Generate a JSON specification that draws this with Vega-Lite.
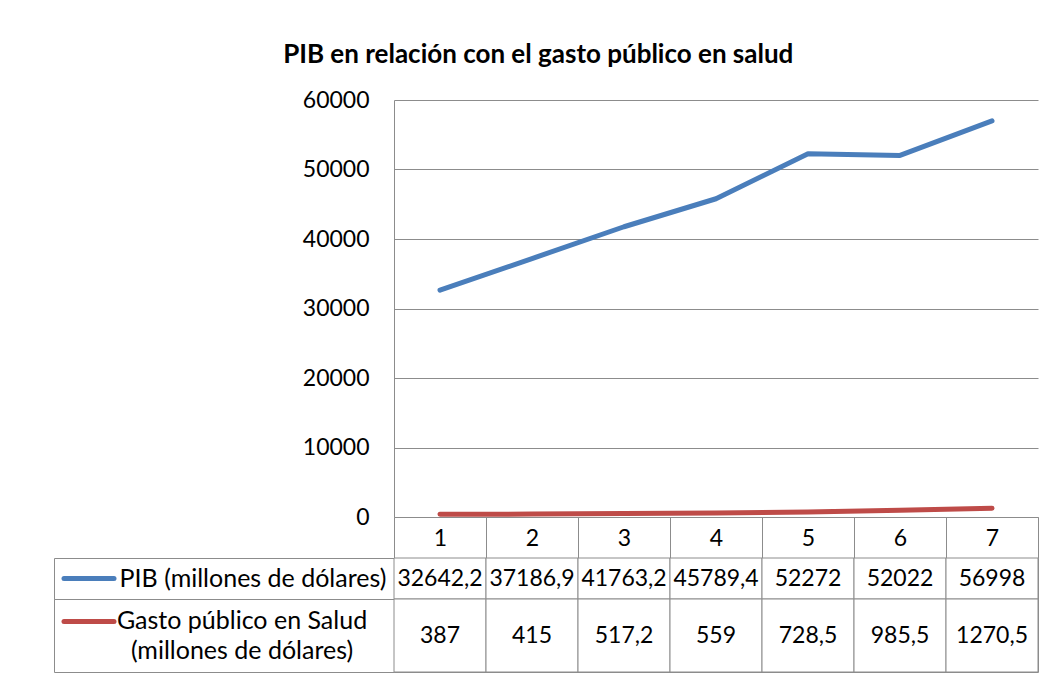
{
  "$schema": "https://vega.github.io/schema/vega-lite/v6.json",
  "background": "white",
  "autosize": {"type": "pad"},
  "padding": {"left": 53, "top": 42, "right": 12, "bottom": 8},
  "title": {
    "text": "PIB en relación con el gasto público en salud",
    "font": "Lato",
    "fontSize": 26,
    "fontWeight": "bold",
    "color": "black",
    "anchor": "middle",
    "dx": -8,
    "offset": 21
  },
  "datasets": {
    "datos": [
      {"año": 1, "serie": "PIB (millones de dólares)", "valor": 32642.2},
      {"año": 2, "serie": "PIB (millones de dólares)", "valor": 37186.9},
      {"año": 3, "serie": "PIB (millones de dólares)", "valor": 41763.2},
      {"año": 4, "serie": "PIB (millones de dólares)", "valor": 45789.4},
      {"año": 5, "serie": "PIB (millones de dólares)", "valor": 52272},
      {"año": 6, "serie": "PIB (millones de dólares)", "valor": 52022},
      {"año": 7, "serie": "PIB (millones de dólares)", "valor": 56998},
      {"año": 1, "serie": "Gasto público en Salud (millones de dólares)", "valor": 387},
      {"año": 2, "serie": "Gasto público en Salud (millones de dólares)", "valor": 415},
      {"año": 3, "serie": "Gasto público en Salud (millones de dólares)", "valor": 517.2},
      {"año": 4, "serie": "Gasto público en Salud (millones de dólares)", "valor": 559},
      {"año": 5, "serie": "Gasto público en Salud (millones de dólares)", "valor": 728.5},
      {"año": 6, "serie": "Gasto público en Salud (millones de dólares)", "valor": 985.5},
      {"año": 7, "serie": "Gasto público en Salud (millones de dólares)", "valor": 1270.5}
    ],
    "series": [
      {"serie": "PIB (millones de dólares)", "etiqueta": "PIB (millones de dólares)"},
      {"serie": "Gasto público en Salud (millones de dólares)", "etiqueta": "Gasto público en Salud\n(millones de dólares)"}
    ]
  },
  "columns": 2,
  "spacing": 0,
  "bounds": "flush",
  "align": "each",
  "concat": [
    {
      "width": 340,
      "height": 458,
      "data": {"values": []},
      "mark": "text",
      "view": {"stroke": null}
    },
    {
      "width": 644,
      "height": 417,
      "data": {"name": "datos"},
      "mark": {"type": "line", "strokeWidth": 5, "strokeCap": "round", "strokeJoin": "round"},
      "encoding": {
        "x": {
          "field": "año",
          "type": "ordinal",
          "scale": {"type": "band", "paddingInner": 0, "paddingOuter": 0},
          "axis": {
            "title": null,
            "orient": "bottom",
            "tickBand": "extent",
            "tickSize": 41,
            "tickColor": "#8c8c8c",
            "domainColor": "#8c8c8c",
            "labelFontSize": 23,
            "labelColor": "black",
            "labelAngle": 0,
            "labelBaseline": "middle",
            "labelPadding": -20,
            "grid": false
          }
        },
        "y": {
          "field": "valor",
          "type": "quantitative",
          "scale": {"domain": [0, 60000], "nice": false},
          "axis": {
            "title": null,
            "values": [0, 10000, 20000, 30000, 40000, 50000, 60000],
            "format": "d",
            "grid": true,
            "gridColor": "#8c8c8c",
            "domainColor": "#8c8c8c",
            "ticks": false,
            "labelPadding": 25,
            "labelFontSize": 23,
            "labelColor": "black"
          }
        },
        "color": {
          "field": "serie",
          "type": "nominal",
          "scale": {
            "domain": ["PIB (millones de dólares)", "Gasto público en Salud (millones de dólares)"],
            "range": ["#4A7EBB", "#BE4B48"]
          },
          "legend": null
        }
      },
      "view": {"stroke": null}
    },
    {
      "width": 340,
      "height": 41,
      "data": {"name": "series"},
      "transform": [{"filter": "datum.serie == 'PIB (millones de dólares)'"}],
      "layer": [
        {
          "mark": {"type": "text", "fontSize": 25, "align": "center", "baseline": "middle", "dx": 29, "color": "black"},
          "encoding": {"text": {"field": "etiqueta"}}
        },
        {
          "mark": {"type": "point", "shape": "stroke", "size": 2500, "strokeWidth": 5, "strokeCap": "round", "filled": false, "opacity": 1, "color": "#4A7EBB", "xOffset": -135},
          "encoding": {}
        }
      ],
      "view": {"stroke": "#8c8c8c"}
    },
    {
      "width": 644,
      "height": 41,
      "data": {"name": "datos"},
      "transform": [{"filter": "datum.serie == 'PIB (millones de dólares)'"}],
      "encoding": {
        "x": {"field": "año", "type": "ordinal", "scale": {"type": "band", "paddingInner": 0, "paddingOuter": 0}, "axis": null}
      },
      "layer": [
        {"mark": {"type": "bar", "fill": "white", "stroke": "#8c8c8c", "strokeWidth": 1}},
        {
          "mark": {"type": "text", "fontSize": 23, "baseline": "middle", "color": "black"},
          "encoding": {"text": {"field": "valor", "type": "quantitative", "format": ".1~f"}}
        }
      ],
      "view": {"stroke": "#8c8c8c"}
    },
    {
      "width": 340,
      "height": 73,
      "data": {"name": "series"},
      "transform": [{"filter": "datum.serie == 'Gasto público en Salud (millones de dólares)'"}],
      "layer": [
        {
          "mark": {"type": "text", "fontSize": 25, "align": "center", "baseline": "middle", "dx": 18, "dy": -15, "lineBreak": "\n", "lineHeight": 30, "color": "black"},
          "encoding": {"text": {"field": "etiqueta"}}
        },
        {
          "mark": {"type": "point", "shape": "stroke", "size": 2500, "strokeWidth": 5, "strokeCap": "round", "filled": false, "opacity": 1, "color": "#BE4B48", "xOffset": -135, "yOffset": -14},
          "encoding": {}
        }
      ],
      "view": {"stroke": "#8c8c8c"}
    },
    {
      "width": 644,
      "height": 73,
      "data": {"name": "datos"},
      "transform": [{"filter": "datum.serie == 'Gasto público en Salud (millones de dólares)'"}],
      "encoding": {
        "x": {"field": "año", "type": "ordinal", "scale": {"type": "band", "paddingInner": 0, "paddingOuter": 0}, "axis": null}
      },
      "layer": [
        {"mark": {"type": "bar", "fill": "white", "stroke": "#8c8c8c", "strokeWidth": 1}},
        {
          "mark": {"type": "text", "fontSize": 23, "baseline": "middle", "color": "black"},
          "encoding": {"text": {"field": "valor", "type": "quantitative", "format": ".1~f"}}
        }
      ],
      "view": {"stroke": "#8c8c8c"}
    }
  ],
  "config": {
    "font": "Lato",
    "locale": {"number": {"decimal": ",", "thousands": ".", "grouping": [3], "currency": ["", " €"]}},
    "axis": {"labelFont": "Lato"}
  }
}
